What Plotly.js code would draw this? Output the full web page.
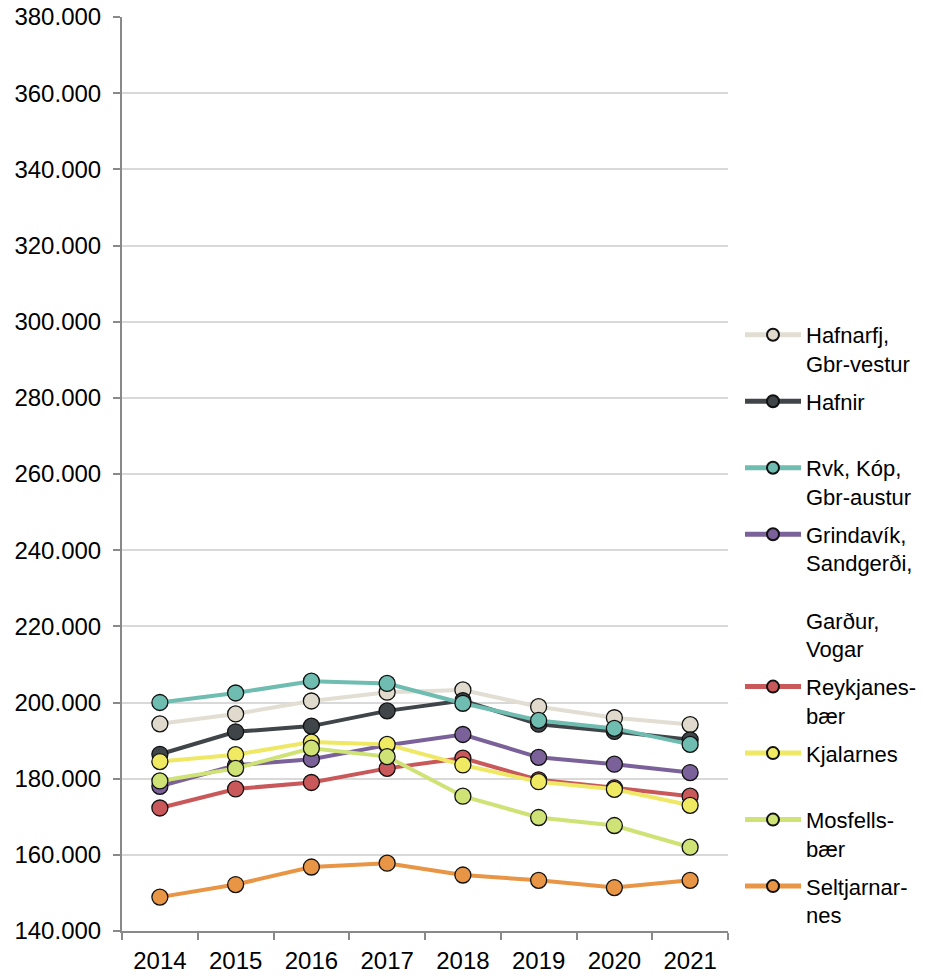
<!DOCTYPE html>
<html><head><meta charset="utf-8">
<script src="https://cdn.plot.ly/plotly-3.0.1.min.js"></script>
<style>html,body{margin:0;padding:0;background:#fff}</style>
</head><body><div id="chart" style="width:927px;height:976px"></div>
<script>
const years = ['2014','2015','2016','2017','2018','2019','2020','2021'];
const seriesNames = [
  'Hafnarfj,<br>Gbr-vestur',
  'Hafnir<br>\u00a0',
  'Rvk, Kóp,<br>Gbr-austur',
  'Grindavík,<br>Sandgerði,<br>\u00a0<br>Garður,<br>Vogar',
  'Reykjanes-<br>bær',
  'Kjalarnes<br>\u00a0',
  'Mosfells-<br>bær',
  'Seltjarnar-<br>nes'
];
const hafnarfj   = [194400, 197000, 200400, 202700, 203300, 198900, 196000, 194200];
const hafnir     = [186400, 192300, 193800, 197800, 200500, 194300, 192400, 190200];
const rvk        = [200000, 202500, 205600, 205000, 199800, 195300, 193200, 189000];
const grindavik  = [178000, 183500, 185100, 188800, 191600, 185600, 183800, 181600];
const reykjanes  = [172300, 177300, 179000, 182700, 185400, 179700, 177600, 175400];
const kjalarnes  = [184500, 186300, 189600, 189000, 183600, 179200, 177200, 173000];
const mosfells   = [179400, 182700, 188000, 185800, 175400, 169800, 167700, 162000];
const seltjarnar = [148900, 152200, 156800, 157800, 154700, 153300, 151400, 153300];
const yTickVals = [140000,160000,180000,200000,220000,240000,260000,280000,300000,320000,340000,360000,380000];

const allSeries = [hafnarfj, hafnir, rvk, grindavik, reykjanes, kjalarnes, mosfells, seltjarnar];
const lineColors   = ['#E2DED3','#3F4548','#6FBCB1','#7A6199','#C9585A','#EEE865','#CFE275','#E89545'];
const markerColors = ['#DFDACC','#3F4548','#6FBCB1','#7A6199','#C9585A','#F0EA62','#CFE275','#E89545'];

const traces = allSeries.map((vals, i) => ({
  type: 'scatter',
  mode: 'lines+markers',
  x: years,
  y: vals,
  name: seriesNames[i],
  legendgroup: 'g' + i,
  line: {color: lineColors[i], width: 4},
  marker: {size: 16, color: markerColors[i], line: {color: '#111', width: 1.3}},
  hoverinfo: 'x+y'
}));

const layout = {
  width: 927, height: 976,
  margin: {l: 122, r: 199, t: 17, b: 45, pad: 0},
  paper_bgcolor: '#fff', plot_bgcolor: '#fff',
  separators: ',.',
  font: {family: 'Liberation Sans, Arial, sans-serif', color: '#000', size: 22},
  showlegend: true,
  legend: {
    xref: 'container', yref: 'container',
    x: 740/927, y: 1 - 314/976, xanchor: 'left', yanchor: 'top',
    traceorder: 'grouped', tracegroupgap: 6.3,
    valign: 'top', itemwidth: 56, itemsizing: 'constant',
    maxheight: 900,
    font: {size: 22, color: '#000'},
    bgcolor: 'rgba(0,0,0,0)', borderwidth: 0
  },
  xaxis: {
    type: 'category',
    range: [-0.5, 7.5],
    tickson: 'boundaries',
    ticks: 'outside', ticklen: 7, tickwidth: 2, tickcolor: '#898989',
    showline: true, linecolor: '#898989', linewidth: 2,
    showgrid: false, zeroline: false,
    tickfont: {size: 24, color: '#000'},
    ticklabelstandoff: 7,
    fixedrange: true
  },
  yaxis: {
    range: [140000, 380000],
    tickvals: yTickVals,
    tickformat: ',d',
    ticks: 'outside', ticklen: 7, tickwidth: 2, tickcolor: '#898989',
    showline: true, linecolor: '#898989', linewidth: 2,
    showgrid: true, gridcolor: '#D9D9D9', gridwidth: 2,
    zeroline: false,
    tickfont: {size: 24, color: '#000'},
    ticklabelstandoff: 7,
    fixedrange: true
  }
};

Plotly.newPlot('chart', traces, layout, {displayModeBar: false, staticPlot: true});
</script>
</body></html>
